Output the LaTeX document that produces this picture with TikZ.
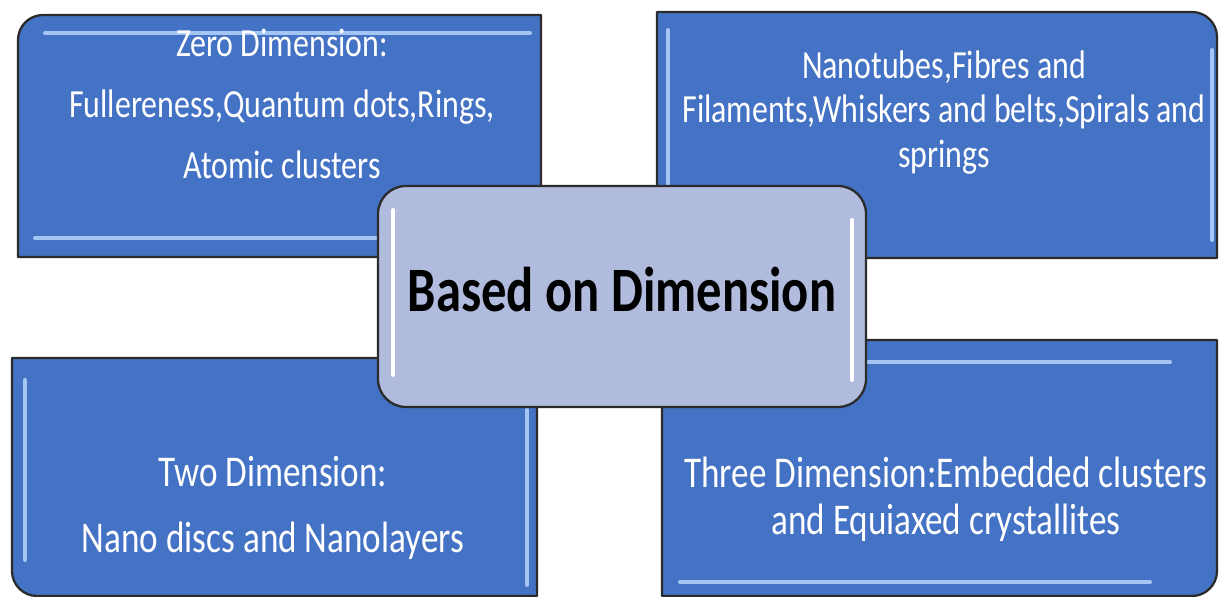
\documentclass[tikz,border=0pt]{standalone}
\usepackage{fontspec}
\setmainfont{Carlito}
\newfontfamily\narrowfont[FakeStretch=0.8]{Carlito}
\definecolor{boxblue}{HTML}{4472C4}
\definecolor{hubfill}{HTML}{B0BBDE}
\definecolor{rim}{HTML}{2B2B2B}
\definecolor{shine}{HTML}{A3C6F4}
\begin{document}
\begin{tikzpicture}[x=0.02cm, y=0.02cm, line join=round, line cap=round,
	box/.style={fill=boxblue, draw=rim, line width=1.3pt},
	hub/.style={fill=hubfill, draw=rim, line width=1.3pt},
	shine/.style={draw=shine, line width=2.3pt},
	hubshine/.style={draw=white, line width=2.3pt},
	label/.style={inner sep=0pt, align=center, text=white, font=\narrowfont\fontsize{22.7}{25.5}\selectfont},
	biglabel/.style={label, font=\narrowfont\fontsize{25}{28}\selectfont}]
	\useasboundingbox (0,0) rectangle (1220,597);
	% zero dimension (top left)
	\draw[box] (541,340) -- (18,340) -- (18,557) arc[start angle=180, end angle=90, radius=0.5cm] -- (541,582) -- cycle;
	\draw[shine] (45,564) -- (530,564) (35,359) -- (400,359);
	% one dimension (top right)
	\draw[box] (657,339) -- (657,585) -- (1192,585) arc[start angle=90, end angle=0, radius=0.5cm] -- (1217,339) -- cycle;
	\draw[shine] (668,567) -- (668,347) (1212,547) -- (1212,357);
	% two dimension (bottom left)
	\draw[box] (537,239) -- (12,239) -- (12,26) arc[start angle=180, end angle=270, radius=0.5cm] -- (537,1) -- cycle;
	\draw[shine] (25,217) -- (25,37) (527,187) -- (527,12);
	% three dimension (bottom right)
	\draw[box] (662,1) -- (662,257) -- (1217,257) -- (1217,26) arc[start angle=0, end angle=-90, radius=0.5cm] -- cycle;
	\draw[shine] (680,235) -- (1170,235) (680,15) -- (1150,15);
	% centre box on top
	\draw[hub, rounded corners=0.56cm] (378,190) rectangle (866,411);
	\draw[hubshine] (393,387) -- (393,222) (852,377) -- (852,217);
	\node[label, anchor=north] (zero) at (282,568) {Zero Dimension:\\[9pt] Fullereness,Quantum dots,Rings,\\[9pt] Atomic clusters};
	\node[label, anchor=north] (one) at (944,547) {Nanotubes,Fibres and\\ Filaments,Whiskers and belts,Spirals and\\ springs};
	\node[biglabel, anchor=north] (two) at (273,141) {Two Dimension:\\[9.4pt] Nano discs and Nanolayers};
	\node[biglabel, anchor=north] (three) at (946,140) {Three Dimension:Embedded clusters\\[-1.4pt] and Equiaxed crystallites};
	\node[inner sep=0pt, anchor=base, font=\narrowfont\bfseries\fontsize{36}{40}\selectfont] (hub) at (622,285) {Based on Dimension};
\end{tikzpicture}
\end{document}
